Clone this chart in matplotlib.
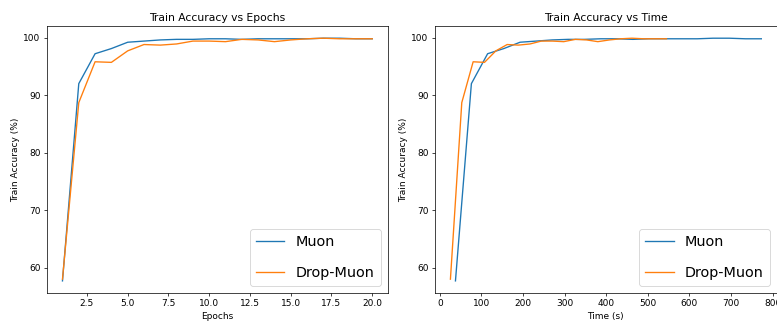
import matplotlib

matplotlib.use("Agg")
import matplotlib.pyplot as plt

epochs = list(range(1, 21))

muon_acc = [57.7, 92.0, 97.2, 98.1, 99.2, 99.4, 99.6, 99.7, 99.7, 99.8,
            99.8, 99.7, 99.8, 99.8, 99.8, 99.8, 99.9, 99.9, 99.8, 99.8]
drop_acc = [58.0, 88.7, 95.8, 95.7, 97.7, 98.8, 98.7, 98.9, 99.4, 99.4,
            99.3, 99.7, 99.6, 99.3, 99.6, 99.8, 99.9, 99.8, 99.8, 99.8]

muon_time = [37.7, 76, 115, 154, 193, 232, 270, 309, 348, 387,
             425, 464, 503, 541, 580, 619, 657, 696, 735, 773]
drop_time = [25.6, 52.9, 80.2, 107.5, 134.8, 162, 189, 217, 244, 271,
             298, 326, 353, 380, 408, 435, 462, 490, 517, 545]

fig = plt.figure(figsize=(12, 4.967), dpi=64.83)
ax1 = fig.add_axes([0.0604, 0.090, 0.438, 0.829])
ax2 = fig.add_axes([0.559, 0.090, 0.4396, 0.829])

ax1.plot(epochs, muon_acc, label="Muon")
ax1.plot(epochs, drop_acc, label="Drop-Muon")
ax1.set_title("Train Accuracy vs Epochs")
ax1.set_xlabel("Epochs")
ax1.set_ylabel("Train Accuracy (%)")
ax1.legend(loc="lower right", fontsize=16, labelspacing=1.2)

ax2.plot(muon_time, muon_acc, label="Muon")
ax2.plot(drop_time, drop_acc, label="Drop-Muon")
ax2.set_title("Train Accuracy vs Time")
ax2.set_xlabel("Time (s)")
ax2.set_ylabel("Train Accuracy (%)")
ax2.legend(loc="lower right", fontsize=16, labelspacing=1.2)

fig.savefig("out.png", dpi=64.83)
